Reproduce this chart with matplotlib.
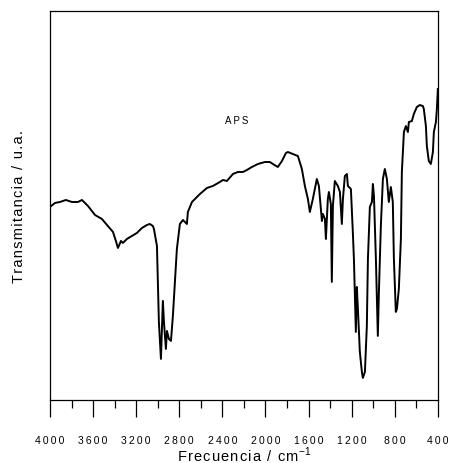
import matplotlib
matplotlib.use('Agg')
import matplotlib.pyplot as plt
from matplotlib.ticker import MultipleLocator, FuncFormatter

plt.rcParams['font.family'] = ['Liberation Sans', 'DejaVu Sans']

# IR spectrum of APS (transmittance in arbitrary units)
wavenumber = [4000, 3954, 3907, 3852, 3796, 3740, 3703, 3647, 3582, 3518,
              3462, 3415, 3388, 3369, 3341, 3323, 3286, 3239, 3193, 3146,
              3100, 3073, 3045, 3035, 3007, 2998, 2989, 2970, 2952, 2942,
              2924, 2914, 2896, 2877, 2859, 2840, 2822, 2794, 2766, 2747,
              2729, 2720, 2682, 2636, 2608, 2543, 2488, 2423, 2395, 2358,
              2302, 2256, 2209, 2172, 2126, 2070, 2005, 1959, 1931, 1885,
              1847, 1810, 1792, 1745, 1699, 1662, 1634, 1606, 1588, 1560,
              1523, 1504, 1486, 1476, 1467, 1448, 1439, 1421, 1411, 1393,
              1384, 1374, 1356, 1328, 1309, 1291, 1281, 1263, 1244, 1235,
              1207, 1189, 1179, 1161, 1152, 1142, 1124, 1105, 1096, 1077,
              1059, 1049, 1031, 1012, 1003, 993, 975, 957, 947, 929,
              910, 892, 873, 855, 836, 818, 808, 790, 780, 762,
              743, 734, 715, 697, 678, 669, 641, 623, 595, 567,
              539, 530, 511, 502, 484, 465, 446, 437, 418, 409, 400]
transmittance = [193, 197, 198, 200, 198, 198, 200, 194, 185, 181,
                 174, 168, 159, 152, 159, 157, 161, 164, 167, 172,
                 175, 176, 174, 171, 154, 118, 78, 41, 99, 78,
                 51, 69, 61, 59, 84, 118, 151, 176, 180, 178,
                 176, 188, 198, 203, 206, 212, 214, 218, 220, 219,
                 226, 228, 228, 230, 233, 236, 238, 238, 236, 233,
                 239, 247, 248, 246, 244, 231, 214, 201, 188, 201,
                 221, 214, 191, 179, 186, 181, 161, 201, 208, 196,
                 118, 194, 219, 214, 208, 176, 201, 224, 226, 214,
                 211, 168, 141, 68, 113, 91, 48, 28, 22, 28,
                 74, 141, 193, 198, 216, 204, 141, 64, 108, 174,
                 221, 231, 221, 198, 213, 198, 141, 88, 91, 111,
                 161, 228, 268, 274, 268, 278, 279, 286, 293, 295,
                 294, 291, 274, 254, 239, 236, 248, 268, 278, 291, 311]

sample_name = 'APS'


def spaced(s, sp='\u200a'):
    # the original plot uses wide letter spacing
    return sp.join(s)


fig = plt.figure(figsize=(4.5, 4.64), dpi=100)
ax = fig.add_axes([0.111, 0.136, 0.862, 0.838])

ax.plot(wavenumber, transmittance, color='black', linewidth=1.4)

ax.set_xlim(4000, 400)
ax.set_ylim(0, 389)
ax.xaxis.set_major_locator(MultipleLocator(400))
ax.xaxis.set_minor_locator(MultipleLocator(200))
ax.xaxis.set_major_formatter(FuncFormatter(lambda v, p: spaced(str(int(v)), '\u2009')))
ax.set_yticks([])
ax.tick_params(axis='x', which='major', direction='out', length=12, width=0.9,
               labelsize=7.5, pad=13)
ax.tick_params(axis='x', which='minor', direction='out', length=6, width=0.9)
for s in ax.spines.values():
    s.set_linewidth(0.9)

ax.text(2265, 280, spaced(sample_name, '\u2009'), ha='center', va='center', fontsize=7)

ax.set_xlabel(spaced('Frecuencia / cm') + '$^{\\mathregular{-1}}$', fontsize=10.5, labelpad=0)
ax.set_ylabel(spaced('Transmitancia / u.a.'), fontsize=10.5, labelpad=17)

fig.savefig('out.png', dpi=100)
